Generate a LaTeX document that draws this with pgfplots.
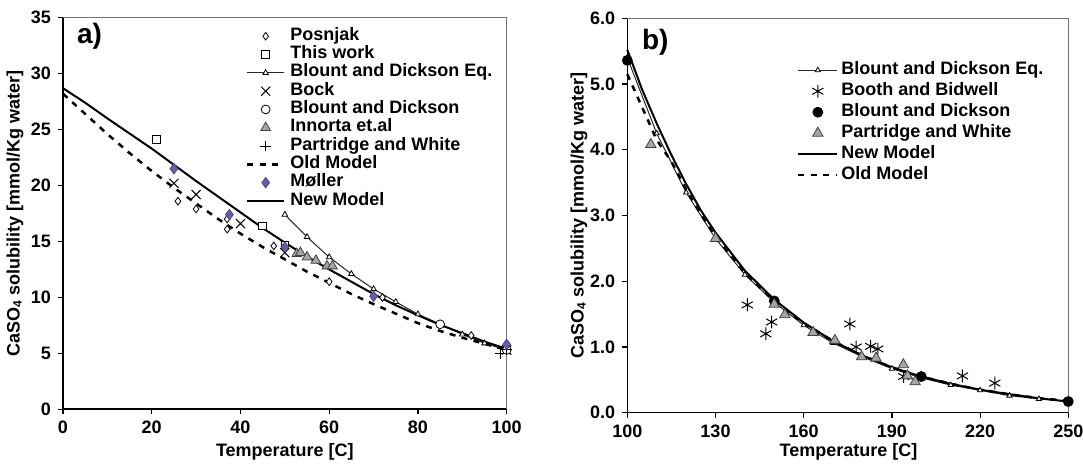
\documentclass[border=0pt]{standalone}
\usepackage{fontspec}
\setmainfont{Liberation Sans}
\usepackage{pgfplots}
\pgfplotsset{compat=1.18}
\definecolor{moller}{RGB}{96,96,168}
\definecolor{tri}{RGB}{165,165,165}
\newcommand{\bff}{\bfseries\fontsize{9}{10}\selectfont}
\pgfplotsset{
 mystyle/.style={
  scale only axis, clip=false,
  axis x line*=bottom, axis y line*=left,
  axis line style={-, line width=0.8pt, black},
  tick align=outside, major tick length=2.5pt,
  tick style={black, line width=0.6pt},
  ticklabel style={font=\bff},
  /pgf/number format/assume math mode=true,
  legend style={draw=none, fill=none, font=\bff,
    inner sep=0pt, outer sep=0pt, column sep=2.5pt},
  legend cell align=left,
  legend image code/.code={\draw[mark repeat=2,mark phase=2,##1] plot coordinates {(0pt,0pt) (9.2pt,0pt) (18.4pt,0pt)};},
 }
}
\begin{document}
\begin{tikzpicture}
\path[use as bounding box] (0,0) rectangle (541.5pt,233pt);
% ---------------- chart a ----------------
\begin{axis}[mystyle,
  at={(31.5pt,28.35pt)}, anchor=south west,
  width=221.85pt, height=195.8pt,
  xmin=0, xmax=100, ymin=0, ymax=35,
  xtick={0,20,...,100}, ytick={0,5,...,35},
  every axis y label/.style={at={(axis description cs:-0.108,0.5)}, rotate=90, anchor=center, font=\bff},
  every axis x label/.style={at={(axis description cs:0.5,-0.109)}, anchor=center, font=\bff},
  xlabel={Temperature [C]},
  ylabel={CaSO\textsubscript{4} solubility [mmol/Kg water]},
  legend style={at={(axis description cs:0.4125,0.976)}, anchor=north west,
    nodes={inner sep=0pt, font=\bff, text height=6.6pt, text depth=2.55pt}},
]
\addplot[only marks, mark=diamond*, mark size=1.9pt, mark options={draw=black, fill=white, line width=0.4pt}]
 coordinates {(25.9,18.6) (30,17.9) (37,17.0) (37,16.1) (47.5,14.6) (60,11.4) (72,10.0) (92,6.6) (100,5.3)};
\addlegendentry{Posnjak}
\addplot[only marks, mark=square*, mark size=1.9pt, mark options={draw=black, fill=white, line width=0.4pt}]
 coordinates {(21,24.1) (45,16.4) (50,14.7)};
\addlegendentry{This work}
\addplot[black!85, line width=0.5pt, mark=triangle*, mark size=1.6pt, mark options={draw=black, fill=white, line width=0.4pt}]
 coordinates {(50,17.4) (55,15.4) (60,13.6) (65,12.1) (70,10.75) (75,9.6) (80,8.5) (85,7.6) (90,6.7) (95,5.9) (100,5.3)};
\addlegendentry{Blount and Dickson Eq.}
\addplot[only marks, mark=x, mark size=3.2pt, mark options={draw=black, line width=0.5pt}]
 coordinates {(25,20.2) (30,19.2) (40,16.6) (50,14.0) (100,5.3)};
\addlegendentry{Bock}
\addplot[only marks, mark=*, mark size=2.2pt, mark options={draw=black, fill=white, line width=0.4pt}]
 coordinates {(85,7.6) (100,5.3)};
\addlegendentry{Blount and Dickson}
\addplot[only marks, mark=triangle*, mark size=2.8pt, mark options={draw=black!75, fill=tri, line width=0.4pt}]
 coordinates {(52.7,13.9) (53.5,14.0) (55,13.6) (57,13.3) (59.5,12.8) (60.7,12.8)};
\addlegendentry{Innorta et.al}
\addplot[only marks, mark=+, mark size=2.7pt, mark options={draw=black, line width=0.5pt}]
 coordinates {(98.5,4.95) (100,5.35)};
\addlegendentry{Partridge and White}
\addplot[black, line width=1.25pt, dash pattern=on 3pt off 3.2pt]
 coordinates {(0,28.2) (5,26.4) (10,24.6) (15,22.9) (20,21.3) (25,19.8) (30,18.4) (35,17.0) (40,15.7) (45,14.5) (50,13.4) (55,12.3) (60,11.3) (65,10.3) (70,9.4) (75,8.55) (80,7.7) (85,7.0) (90,6.4) (95,5.85) (100,5.3)};
\addlegendentry{Old Model}
\addplot[only marks, mark=diamond*, mark size=2.6pt, mark options={draw=moller!80!black, fill=moller, line width=0.4pt}]
 coordinates {(25,21.5) (37.5,17.4) (50,14.5) (70,10.1) (100,5.8)};
\addlegendentry{Møller}
\addplot[black, line width=1pt]
 coordinates {(0,28.7) (5,27.4) (10,26.0) (15,24.65) (20,23.3) (25,21.85) (30,20.4) (35,19.0) (40,17.6) (45,16.2) (50,14.9) (55,13.65) (60,12.5) (65,11.4) (70,10.3) (75,9.3) (80,8.4) (85,7.55) (90,6.8) (95,6.05) (100,5.4)};
\addlegendentry{New Model}
\draw[black!55, line width=0.6pt] (rel axis cs:0,1) -- (rel axis cs:1,1) -- (rel axis cs:1,0);
\node[anchor=base west, font=\bfseries\fontsize{14}{16}\selectfont, inner sep=0pt] at (rel axis cs:0.031,0.933) {a)};
\end{axis}
% ---------------- chart b ----------------
\begin{axis}[mystyle,
  at={(313.65pt,26.65pt)}, anchor=south west,
  width=220.5pt, height=197.2pt,
  xmin=100, xmax=250, ymin=0, ymax=6,
  xtick={100,130,...,250}, ytick={0,1,...,6},
  yticklabel style={/pgf/number format/.cd, fixed, fixed zerofill, precision=1},
  every axis y label/.style={at={(axis description cs:-0.1095,0.5)}, rotate=90, anchor=center, font=\bff},
  every axis x label/.style={at={(axis description cs:0.5016,-0.0997)}, anchor=center, font=\bff},
  xlabel={Temperature [C]},
  ylabel={CaSO\textsubscript{4} solubility [mmol/Kg water]},
  legend style={at={(axis description cs:0.385,0.895)}, anchor=north west, column sep=1.4pt,
    nodes={inner sep=0pt, font=\bff, text height=7.4pt, text depth=3.1pt}},
  legend image code/.code={\draw[mark repeat=2,mark phase=2,#1] plot coordinates {(0pt,0pt) (9.75pt,0pt) (19.5pt,0pt)};},
]
\addplot[black!85, line width=0.5pt, mark=triangle*, mark size=1.5pt, mark options={draw=black, fill=white, line width=0.4pt}]
 coordinates {(100,5.40) (110,4.25) (120,3.35) (130,2.65) (140,2.10) (150,1.68) (160,1.33) (170,1.06) (180,0.85) (190,0.67) (200,0.53) (210,0.42) (220,0.34) (230,0.26) (240,0.21) (250,0.17)};
\addlegendentry{Blount and Dickson Eq.}
\addplot[only marks, mark=asterisk, mark size=3.2pt, mark options={draw=black, line width=0.5pt}]
 coordinates {(140.8,1.64) (147.1,1.20) (149.1,1.38) (175.7,1.35) (177.8,1.00) (182.8,1.01) (185.2,0.97) (194,0.55) (214,0.56) (225,0.45)};
\addlegendentry{Booth and Bidwell}
\addplot[only marks, mark=*, mark size=2.5pt, mark options={draw=black, fill=black}]
 coordinates {(100,5.36) (150,1.70) (200,0.55) (250,0.17)};
\addlegendentry{Blount and Dickson}
\addplot[only marks, mark=triangle*, mark size=3pt, mark options={draw=black!75, fill=tri, line width=0.4pt}]
 coordinates {(108,4.08) (130,2.65) (150,1.65) (153.6,1.49) (163.2,1.22) (170.6,1.10) (179.7,0.85) (184.6,0.83) (193.9,0.73) (195.3,0.56) (197.9,0.47)};
\addlegendentry{Partridge and White}
\addplot[black, line width=1pt]
 coordinates {(100,5.52) (105,4.92) (110,4.40) (115,3.92) (120,3.48) (125,3.08) (130,2.74) (140,2.16) (150,1.72) (160,1.37) (170,1.09) (180,0.87) (190,0.69) (200,0.55) (210,0.44) (220,0.35) (230,0.28) (240,0.22) (250,0.17)};
\addlegendentry{New Model}
\addplot[black, line width=1.25pt, dash pattern=on 3pt off 3.2pt]
 coordinates {(100,5.15) (105,4.65) (110,4.15) (115,3.82) (120,3.40) (125,3.02) (130,2.68) (140,2.12) (150,1.70) (160,1.36) (170,1.09) (180,0.87) (190,0.69) (200,0.55) (210,0.44) (220,0.35) (230,0.28) (240,0.22) (250,0.18)};
\addlegendentry{Old Model}
\draw[black!55, line width=0.6pt] (rel axis cs:0,1) -- (rel axis cs:1,1) -- (rel axis cs:1,0);
\node[anchor=base west, font=\bfseries\fontsize{14}{16}\selectfont, inner sep=0pt] at (rel axis cs:0.0327,0.922) {b)};
\end{axis}
\end{tikzpicture}
\end{document}
